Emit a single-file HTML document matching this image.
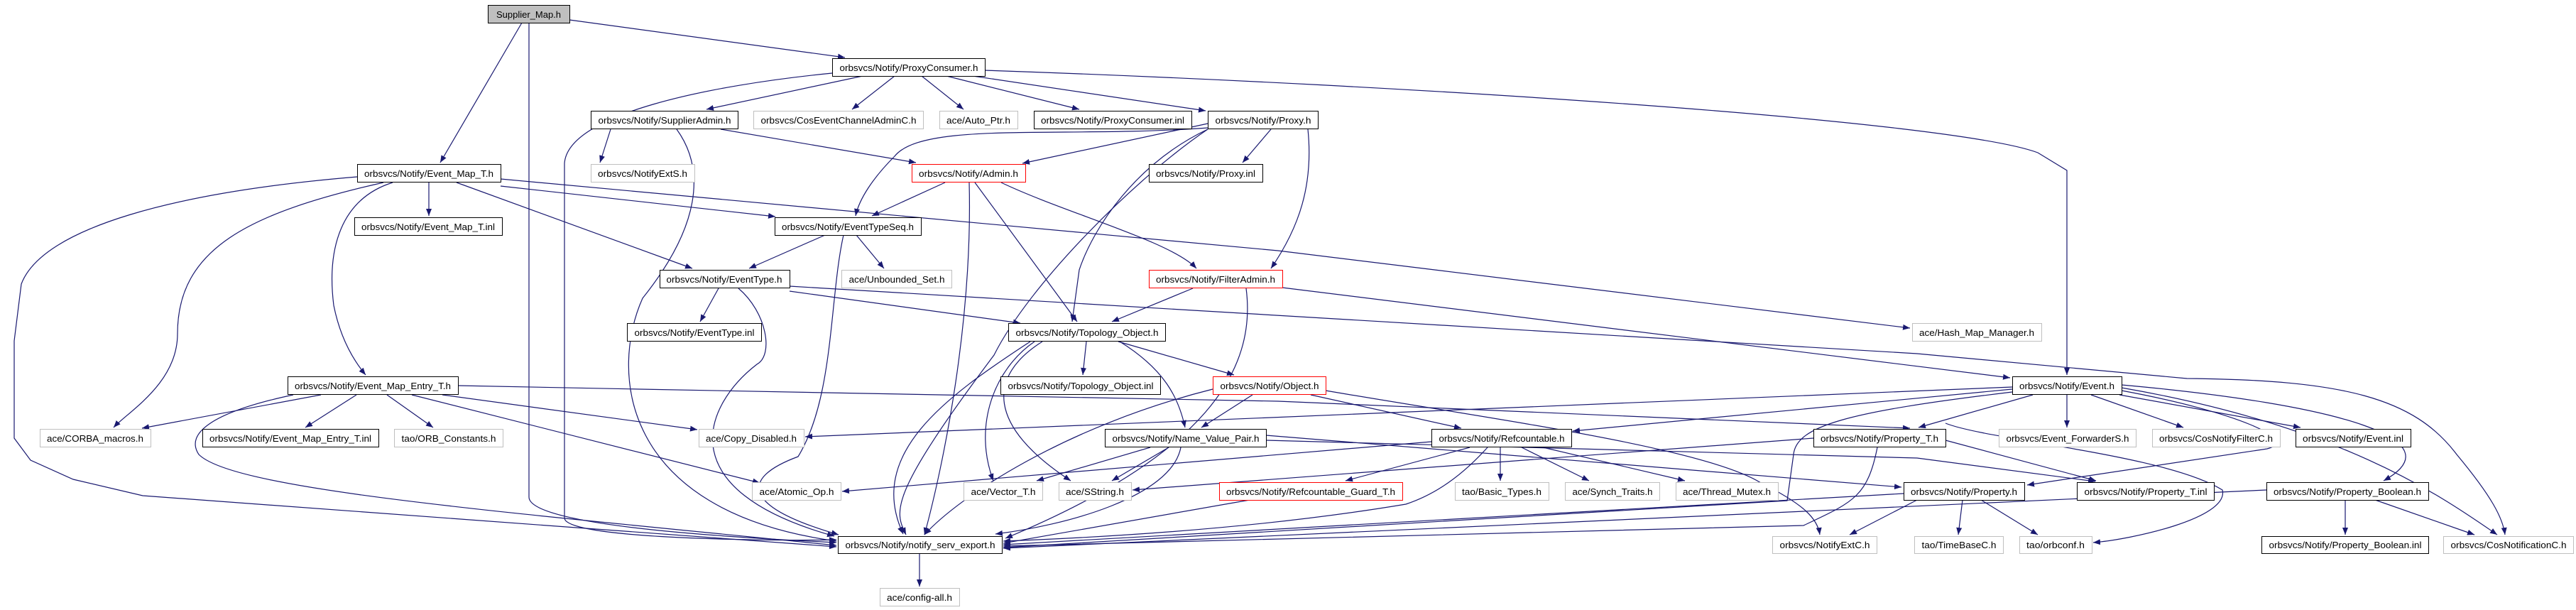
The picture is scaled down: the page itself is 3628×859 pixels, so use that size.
<!DOCTYPE html>
<html><head><meta charset="utf-8"><style>
html,body{margin:0;padding:0;background:#fff;}
svg{display:block;}
text{font-family:"Liberation Sans",sans-serif;font-size:13px;fill:#000;}
.e{fill:none;stroke:#191970;stroke-width:1.2;marker-end:url(#a);}
.n{fill:#fff;stroke:#000;stroke-width:1;}
.g{fill:#fff;stroke:#bfbfbf;stroke-width:1;}
.r{fill:#fff;stroke:#ff0000;stroke-width:1;}
</style></head><body>
<svg width="3628" height="859" viewBox="0 0 3628 859" xmlns="http://www.w3.org/2000/svg">
<defs><marker id="a" markerUnits="userSpaceOnUse" markerWidth="11" markerHeight="8" refX="10" refY="4" orient="auto"><path d="M0,0 L10,4 L0,8 z" fill="#191970"/></marker></defs>
<g>
<path class="e" d="M735,32 L620,229"/>
<path class="e" d="M745,32 L745,700 C745,745 1100,760 1178,764"/>
<path class="e" d="M802,28 L1190,81"/>
<path class="e" d="M1215,107 L995,154"/>
<path class="e" d="M1260,107 L1200,154"/>
<path class="e" d="M1298,107 L1357,154"/>
<path class="e" d="M1333,107 L1520,154"/>
<path class="e" d="M1370,107 L1698,156"/>
<path class="e" d="M1387,99 C2000,120 2750,170 2870,215 L2911,240 L2911,528"/>
<path class="e" d="M1172,103 C1000,120 800,160 795,230 L795,730 C800,760 1100,762 1178,760"/>
<path class="e" d="M860,182 L845,229"/>
<path class="e" d="M1015,182 L1290,229"/>
<path class="e" d="M953,182 C995,240 985,320 905,420 C860,520 870,720 1178,762"/>
<path class="e" d="M604,257 L604,304"/>
<path class="e" d="M705,262 L1092,305"/>
<path class="e" d="M705,252 L1800,353 L2690,462"/>
<path class="e" d="M643,257 L975,378"/>
<path class="e" d="M553,257 C480,280 460,350 470,430 C480,480 500,510 515,528"/>
<path class="e" d="M540,257 C350,300 250,350 250,470 C250,540 180,580 160,602"/>
<path class="e" d="M503,249 C250,270 60,320 30,400 L20,480 L20,617 L43,648 L103,675 L201,698 L1178,770"/>
<path class="e" d="M502,556 L430,602"/>
<path class="e" d="M545,556 L610,602"/>
<path class="e" d="M452,556 L200,603"/>
<path class="e" d="M413,556 C300,580 260,610 280,640 C330,690 700,720 1178,768"/>
<path class="e" d="M580,556 L1070,680"/>
<path class="e" d="M623,556 L982,605"/>
<path class="e" d="M645,543 L900,548 L1800,565 L2690,603"/>
<path class="e" d="M1790,182 L1750,229"/>
<path class="e" d="M1701,174 L1440,230"/>
<path class="e" d="M1701,180 C1500,195 1300,170 1260,220 C1230,250 1210,280 1205,304"/>
<path class="e" d="M1842,182 C1850,260 1830,320 1790,378"/>
<path class="e" d="M1701,182 C1600,230 1540,320 1520,380 L1510,453"/>
<path class="e" d="M1701,182 C1600,250 1450,400 1400,500 C1250,700 1260,720 1276,753"/>
<path class="e" d="M1331,257 L1228,304"/>
<path class="e" d="M1373,257 L1517,453"/>
<path class="e" d="M1410,257 C1500,300 1650,340 1685,378"/>
<path class="e" d="M1365,257 C1370,450 1330,650 1302,753"/>
<path class="e" d="M1162,331 L1055,378"/>
<path class="e" d="M1206,331 L1245,378"/>
<path class="e" d="M1188,331 C1168,420 1175,560 1124,643 C1043,673 1043,713 1181,753"/>
<path class="e" d="M1012,406 L986,453"/>
<path class="e" d="M1040,406 C1080,440 1090,500 1066,513 C992,570 940,690 1175,755"/>
<path class="e" d="M1112,403 L2700,498 L3080,533 C3300,535 3400,560 3460,640 C3510,700 3525,730 3528,753"/>
<path class="e" d="M1112,410 L1437,455"/>
<path class="e" d="M1680,406 L1566,453"/>
<path class="e" d="M1806,405 L2831,532"/>
<path class="e" d="M1755,406 C1770,520 1700,640 1416,758"/>
<path class="e" d="M1530,481 L1525,528"/>
<path class="e" d="M1575,481 L1738,528"/>
<path class="e" d="M1577,481 C1640,520 1660,560 1669,602"/>
<path class="e" d="M1457,481 C1400,520 1370,600 1399,677"/>
<path class="e" d="M1468,481 C1390,530 1390,600 1508,677"/>
<path class="e" d="M1451,481 C1330,560 1220,640 1272,752"/>
<path class="e" d="M1764,556 L1692,602"/>
<path class="e" d="M1846,556 L2058,603"/>
<path class="e" d="M1708,548 C1500,600 1350,700 1302,753"/>
<path class="e" d="M1867,550 C2100,590 2400,630 2480,680 C2540,710 2560,730 2563,753"/>
<path class="e" d="M1646,630 L1566,677"/>
<path class="e" d="M1620,630 L1460,677"/>
<path class="e" d="M1663,630 C1650,700 1500,740 1402,752"/>
<path class="e" d="M1783,613 L2678,686"/>
<path class="e" d="M1783,620 L2700,645 L2951,678"/>
<path class="e" d="M2070,630 L1895,677"/>
<path class="e" d="M2113,630 L2113,677"/>
<path class="e" d="M2143,630 L2238,677"/>
<path class="e" d="M2173,630 L2373,677"/>
<path class="e" d="M2095,630 C2050,680 2010,700 1980,710 C1800,740 1600,755 1413,762"/>
<path class="e" d="M2016,622 L1186,692"/>
<path class="e" d="M1760,704 L1413,765"/>
<path class="e" d="M2911,556 L2911,602"/>
<path class="e" d="M2945,556 L3075,602"/>
<path class="e" d="M2985,556 L3240,602"/>
<path class="e" d="M2863,556 L2702,602"/>
<path class="e" d="M2988,542 C3300,570 3460,620 3357,677"/>
<path class="e" d="M2988,546 C3300,600 3440,700 3517,753"/>
<path class="e" d="M2988,550 C3150,580 3240,620 3193,632 L2855,683"/>
<path class="e" d="M2834,548 L2215,607"/>
<path class="e" d="M2834,545 L1134,615"/>
<path class="e" d="M2834,552 C2600,580 2530,600 2526,640 L2517,705 L1413,771"/>
<path class="e" d="M2740,596 C2800,620 3050,640 3130,690 C3140,730 3000,760 2948,764"/>
<path class="e" d="M2740,620 L2952,677"/>
<path class="e" d="M2554,617 L1595,690"/>
<path class="e" d="M2644,630 C2630,700 2610,707 2540,740 L1413,769"/>
<path class="e" d="M2700,704 L2605,753"/>
<path class="e" d="M2764,704 L2758,753"/>
<path class="e" d="M2790,704 L2870,753"/>
<path class="e" d="M2681,695 L1413,767"/>
<path class="e" d="M3303,704 L3303,753"/>
<path class="e" d="M3345,704 L3485,753"/>
<path class="e" d="M3192,690 L1413,772"/>
<path class="e" d="M1295,779 L1295,826"/>
</g>
<g>
<rect x="687.5" y="7.5" width="115" height="25" fill="#bfbfbf" stroke="#000"/><text x="744.5" y="25" text-anchor="middle">Supplier_Map.h</text>
<rect class="n" x="1172.5" y="82.5" width="215" height="25"/><text x="1280" y="100" text-anchor="middle" textLength="195" lengthAdjust="spacingAndGlyphs">orbsvcs/Notify/ProxyConsumer.h</text>
<rect class="n" x="832.5" y="156.5" width="207" height="25"/><text x="936" y="174" text-anchor="middle" textLength="187" lengthAdjust="spacingAndGlyphs">orbsvcs/Notify/SupplierAdmin.h</text>
<rect class="g" x="1061.5" y="156.5" width="239" height="25"/><text x="1181" y="174" text-anchor="middle" textLength="219" lengthAdjust="spacingAndGlyphs">orbsvcs/CosEventChannelAdminC.h</text>
<rect class="g" x="1323.5" y="156.5" width="110" height="25"/><text x="1378" y="174" text-anchor="middle" textLength="90" lengthAdjust="spacingAndGlyphs">ace/Auto_Ptr.h</text>
<rect class="n" x="1456.5" y="156.5" width="222" height="25"/><text x="1567" y="174" text-anchor="middle" textLength="202" lengthAdjust="spacingAndGlyphs">orbsvcs/Notify/ProxyConsumer.inl</text>
<rect class="n" x="1701.5" y="156.5" width="155" height="25"/><text x="1779" y="174" text-anchor="middle" textLength="135" lengthAdjust="spacingAndGlyphs">orbsvcs/Notify/Proxy.h</text>
<rect class="n" x="503.5" y="231.5" width="202" height="25"/><text x="604" y="249" text-anchor="middle" textLength="182" lengthAdjust="spacingAndGlyphs">orbsvcs/Notify/Event_Map_T.h</text>
<rect class="g" x="832.5" y="231.5" width="146" height="25"/><text x="905" y="249" text-anchor="middle" textLength="126" lengthAdjust="spacingAndGlyphs">orbsvcs/NotifyExtS.h</text>
<rect class="r" x="1284.5" y="231.5" width="160" height="25"/><text x="1364" y="249" text-anchor="middle" textLength="140" lengthAdjust="spacingAndGlyphs">orbsvcs/Notify/Admin.h</text>
<rect class="n" x="1618.5" y="231.5" width="160" height="25"/><text x="1698" y="249" text-anchor="middle" textLength="140" lengthAdjust="spacingAndGlyphs">orbsvcs/Notify/Proxy.inl</text>
<rect class="n" x="499.5" y="306.5" width="208" height="25"/><text x="603" y="324" text-anchor="middle" textLength="188" lengthAdjust="spacingAndGlyphs">orbsvcs/Notify/Event_Map_T.inl</text>
<rect class="n" x="1091.5" y="306.5" width="206" height="25"/><text x="1194" y="324" text-anchor="middle" textLength="186" lengthAdjust="spacingAndGlyphs">orbsvcs/Notify/EventTypeSeq.h</text>
<rect class="n" x="929.5" y="380.5" width="183" height="25"/><text x="1020" y="398" text-anchor="middle" textLength="163" lengthAdjust="spacingAndGlyphs">orbsvcs/Notify/EventType.h</text>
<rect class="g" x="1185.5" y="380.5" width="155" height="25"/><text x="1263" y="398" text-anchor="middle" textLength="135" lengthAdjust="spacingAndGlyphs">ace/Unbounded_Set.h</text>
<rect class="r" x="1618.5" y="380.5" width="188" height="25"/><text x="1712" y="398" text-anchor="middle" textLength="168" lengthAdjust="spacingAndGlyphs">orbsvcs/Notify/FilterAdmin.h</text>
<rect class="n" x="883.5" y="455.5" width="189" height="25"/><text x="978" y="473" text-anchor="middle" textLength="169" lengthAdjust="spacingAndGlyphs">orbsvcs/Notify/EventType.inl</text>
<rect class="n" x="1420.5" y="455.5" width="221" height="25"/><text x="1531" y="473" text-anchor="middle" textLength="201" lengthAdjust="spacingAndGlyphs">orbsvcs/Notify/Topology_Object.h</text>
<rect class="g" x="2693.5" y="455.5" width="182" height="25"/><text x="2784" y="473" text-anchor="middle" textLength="162" lengthAdjust="spacingAndGlyphs">ace/Hash_Map_Manager.h</text>
<rect class="n" x="405.5" y="530.5" width="240" height="25"/><text x="525" y="548" text-anchor="middle" textLength="220" lengthAdjust="spacingAndGlyphs">orbsvcs/Notify/Event_Map_Entry_T.h</text>
<rect class="n" x="1409.5" y="530.5" width="225" height="25"/><text x="1522" y="548" text-anchor="middle" textLength="205" lengthAdjust="spacingAndGlyphs">orbsvcs/Notify/Topology_Object.inl</text>
<rect class="r" x="1708.5" y="530.5" width="159" height="25"/><text x="1788" y="548" text-anchor="middle" textLength="139" lengthAdjust="spacingAndGlyphs">orbsvcs/Notify/Object.h</text>
<rect class="n" x="2834.5" y="530.5" width="154" height="25"/><text x="2911" y="548" text-anchor="middle" textLength="134" lengthAdjust="spacingAndGlyphs">orbsvcs/Notify/Event.h</text>
<rect class="g" x="56.5" y="604.5" width="156" height="25"/><text x="134" y="622" text-anchor="middle" textLength="136" lengthAdjust="spacingAndGlyphs">ace/CORBA_macros.h</text>
<rect class="n" x="285.5" y="604.5" width="248" height="25"/><text x="409" y="622" text-anchor="middle" textLength="228" lengthAdjust="spacingAndGlyphs">orbsvcs/Notify/Event_Map_Entry_T.inl</text>
<rect class="g" x="555.5" y="604.5" width="153" height="25"/><text x="632" y="622" text-anchor="middle" textLength="133" lengthAdjust="spacingAndGlyphs">tao/ORB_Constants.h</text>
<rect class="g" x="984.5" y="604.5" width="148" height="25"/><text x="1058" y="622" text-anchor="middle" textLength="128" lengthAdjust="spacingAndGlyphs">ace/Copy_Disabled.h</text>
<rect class="n" x="1556.5" y="604.5" width="227" height="25"/><text x="1670" y="622" text-anchor="middle" textLength="207" lengthAdjust="spacingAndGlyphs">orbsvcs/Notify/Name_Value_Pair.h</text>
<rect class="n" x="2016.5" y="604.5" width="197" height="25"/><text x="2115" y="622" text-anchor="middle" textLength="177" lengthAdjust="spacingAndGlyphs">orbsvcs/Notify/Refcountable.h</text>
<rect class="n" x="2554.5" y="604.5" width="186" height="25"/><text x="2647" y="622" text-anchor="middle" textLength="166" lengthAdjust="spacingAndGlyphs">orbsvcs/Notify/Property_T.h</text>
<rect class="g" x="2815.5" y="604.5" width="193" height="25"/><text x="2912" y="622" text-anchor="middle" textLength="173" lengthAdjust="spacingAndGlyphs">orbsvcs/Event_ForwarderS.h</text>
<rect class="g" x="3031.5" y="604.5" width="180" height="25"/><text x="3121" y="622" text-anchor="middle" textLength="160" lengthAdjust="spacingAndGlyphs">orbsvcs/CosNotifyFilterC.h</text>
<rect class="n" x="3233.5" y="604.5" width="162" height="25"/><text x="3314" y="622" text-anchor="middle" textLength="142" lengthAdjust="spacingAndGlyphs">orbsvcs/Notify/Event.inl</text>
<rect class="g" x="1059.5" y="679.5" width="125" height="25"/><text x="1122" y="697" text-anchor="middle" textLength="105" lengthAdjust="spacingAndGlyphs">ace/Atomic_Op.h</text>
<rect class="g" x="1357.5" y="679.5" width="111" height="25"/><text x="1413" y="697" text-anchor="middle" textLength="91" lengthAdjust="spacingAndGlyphs">ace/Vector_T.h</text>
<rect class="g" x="1491.5" y="679.5" width="102" height="25"/><text x="1542" y="697" text-anchor="middle" textLength="82" lengthAdjust="spacingAndGlyphs">ace/SString.h</text>
<rect class="r" x="1717.5" y="679.5" width="258" height="25"/><text x="1846" y="697" text-anchor="middle" textLength="238" lengthAdjust="spacingAndGlyphs">orbsvcs/Notify/Refcountable_Guard_T.h</text>
<rect class="g" x="2049.5" y="679.5" width="132" height="25"/><text x="2115" y="697" text-anchor="middle" textLength="112" lengthAdjust="spacingAndGlyphs">tao/Basic_Types.h</text>
<rect class="g" x="2204.5" y="679.5" width="133" height="25"/><text x="2271" y="697" text-anchor="middle" textLength="113" lengthAdjust="spacingAndGlyphs">ace/Synch_Traits.h</text>
<rect class="g" x="2360.5" y="679.5" width="144" height="25"/><text x="2432" y="697" text-anchor="middle" textLength="124" lengthAdjust="spacingAndGlyphs">ace/Thread_Mutex.h</text>
<rect class="n" x="2681.5" y="679.5" width="170" height="25"/><text x="2766" y="697" text-anchor="middle" textLength="150" lengthAdjust="spacingAndGlyphs">orbsvcs/Notify/Property.h</text>
<rect class="n" x="2925.5" y="679.5" width="193" height="25"/><text x="3022" y="697" text-anchor="middle" textLength="173" lengthAdjust="spacingAndGlyphs">orbsvcs/Notify/Property_T.inl</text>
<rect class="n" x="3192.5" y="679.5" width="228" height="25"/><text x="3306" y="697" text-anchor="middle" textLength="208" lengthAdjust="spacingAndGlyphs">orbsvcs/Notify/Property_Boolean.h</text>
<rect class="n" x="1180.5" y="755.5" width="231" height="24"/><text x="1296" y="772" text-anchor="middle" textLength="211" lengthAdjust="spacingAndGlyphs">orbsvcs/Notify/notify_serv_export.h</text>
<rect class="g" x="2496.5" y="755.5" width="147" height="24"/><text x="2570" y="772" text-anchor="middle" textLength="127" lengthAdjust="spacingAndGlyphs">orbsvcs/NotifyExtC.h</text>
<rect class="g" x="2696.5" y="755.5" width="125" height="24"/><text x="2759" y="772" text-anchor="middle" textLength="105" lengthAdjust="spacingAndGlyphs">tao/TimeBaseC.h</text>
<rect class="g" x="2844.5" y="755.5" width="102" height="24"/><text x="2895" y="772" text-anchor="middle" textLength="82" lengthAdjust="spacingAndGlyphs">tao/orbconf.h</text>
<rect class="n" x="3185.5" y="755.5" width="235" height="24"/><text x="3303" y="772" text-anchor="middle" textLength="215" lengthAdjust="spacingAndGlyphs">orbsvcs/Notify/Property_Boolean.inl</text>
<rect class="g" x="3441.5" y="755.5" width="183" height="24"/><text x="3533" y="772" text-anchor="middle" textLength="163" lengthAdjust="spacingAndGlyphs">orbsvcs/CosNotificationC.h</text>
<rect class="g" x="1239.5" y="828.5" width="112" height="25"/><text x="1295" y="846" text-anchor="middle" textLength="92" lengthAdjust="spacingAndGlyphs">ace/config-all.h</text>
</g>
</svg>
</body></html>
